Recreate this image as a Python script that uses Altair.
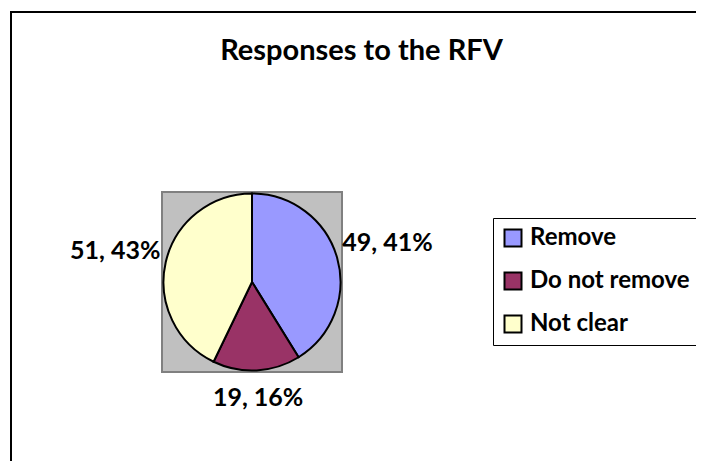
import altair as alt
import pandas as pd

categories = ["Remove", "Do not remove", "Not clear"]
values = [49, 19, 51]
colors = ["#9999FF", "#993366", "#FFFFCC"]
title_text = "Responses to the RFV"

df = pd.DataFrame({"category": categories, "value": values, "idx": list(range(len(values)))})

FONT = "Lato"
W, H = 686, 451
CX, CY, R = 242, 272, 88.5
SQ = 90

color_scale = alt.Scale(domain=categories, range=colors)

base = alt.Chart(df)
one = base.transform_filter("datum.idx == 0")

frame_left = one.mark_rule(color="black", strokeWidth=2).encode(
    x=alt.value(1), y=alt.value(1), y2=alt.value(H + 20),
)
frame_top = one.mark_rule(color="black", strokeWidth=2).encode(
    x=alt.value(0), x2=alt.value(W + 20), y=alt.value(2),
)

square = one.mark_rect(fill="#C0C0C0", stroke="#808080", strokeWidth=2).encode(
    x=alt.value(CX - SQ), x2=alt.value(CX + SQ),
    y=alt.value(CY - SQ), y2=alt.value(CY + SQ),
)

pie = base.mark_arc(stroke="black", strokeWidth=2, radius=R).encode(
    theta=alt.Theta("value:Q", stack=True),
    order=alt.Order("idx:Q"),
    color=alt.Color(
        "category:N", scale=color_scale, sort=categories,
        legend=alt.Legend(
            title=None, orient="none", legendX=483, legendY=208,
            symbolType="square", symbolSize=289, symbolStrokeColor="black",
            symbolStrokeWidth=2, labelFont=FONT, labelFontSize=24,
            labelFontWeight="bold", labelColor="black", rowPadding=17,
            padding=8, strokeColor="black", fillColor="white",
            labelOffset=5, labelLimit=400,
        ),
    ),
    x=alt.value(CX), y=alt.value(CY),
)

labels = base.transform_joinaggregate(total="sum(value)").transform_window(
    cum="sum(value)", sort=[alt.SortField("idx")]
).transform_calculate(
    mid="2*PI*(datum.cum - datum.value/2)/datum.total",
).transform_calculate(
    lr=f"{R} + 5 + 43.5*abs(sin(datum.mid)) + 20*abs(cos(datum.mid))",
).transform_calculate(
    lx=f"{CX} + datum.lr*sin(datum.mid)",
    ly=f"{CY} - datum.lr*cos(datum.mid)",
    label="datum.value + ', ' + round(100*datum.value/datum.total) + '%'",
).mark_text(font=FONT, fontSize=25, fontWeight="bold", color="black",
            align="center", baseline="middle").encode(
    x=alt.X("lx:Q", scale=None, axis=None),
    y=alt.Y("ly:Q", scale=None, axis=None),
    text="label:N",
)

title = one.mark_text(text=title_text, font=FONT, fontSize=29, fontWeight="bold",
                      color="black", align="center", baseline="alphabetic").encode(
    x=alt.value(351.5), y=alt.value(50),
)

chart = alt.layer(frame_left, frame_top, square, pie, labels, title).properties(
    width=W, height=H,
    autosize=alt.AutoSizeParams(type="none"),
    padding={"left": 2, "top": 2, "right": 0, "bottom": 0},
).configure(background="white").configure_view(stroke="transparent")

chart.save("out.html", embed_options={"renderer": "svg", "actions": False})
